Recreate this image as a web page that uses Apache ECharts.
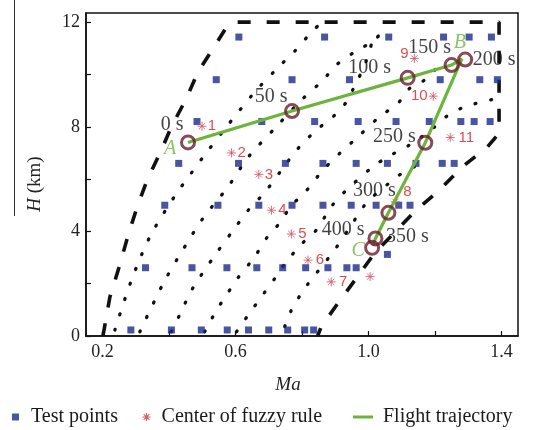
<!DOCTYPE html>
<html><head><meta charset="utf-8">
<script src="https://cdn.jsdelivr.net/npm/echarts@6/dist/echarts.min.js"></script>
<style>html,body{margin:0;padding:0;background:#fff}#c{width:549px;height:430px}</style>
</head><body><div id="c"></div>
<script>
// ---------- axis ticks ----------
const xTicks = [0.2, 0.4, 0.6, 0.8, 1.0, 1.2, 1.4];
const xLabels = [0.2, 0.6, 1.0, 1.4];
const yTicks = [0, 2, 4, 6, 8, 10, 12];
const yLabels = [0, 4, 8, 12];

// ---------- test points (rows of equal altitude) ----------
const testRowH = [11.43, 9.8, 8.2, 6.6, 5.0, 2.61, 0.23];
const testRowMa = [
  [0.61, 0.868, 1.061, 1.226, 1.303, 1.37],
  [0.542, 0.77, 0.943, 1.216, 1.335, 1.388],
  [0.484, 0.679, 0.838, 0.969, 1.083, 1.183, 1.278, 1.318, 1.366],
  [0.429, 0.609, 0.75, 0.863, 0.963, 1.057, 1.143, 1.222, 1.258],
  [0.387, 0.547, 0.67, 0.77, 0.863, 0.948, 1.023, 1.091, 1.125],
  [0.329, 0.469, 0.574, 0.664, 0.742, 0.811, 0.878, 0.935, 0.963],
  [0.285, 0.407, 0.497, 0.575, 0.639, 0.7, 0.757, 0.808, 0.835]
];
const extraTestMa = [1.057];
const extraTestH = [3.12];

// ---------- centers of fuzzy rules ----------
const ruleMa = [0.499, 0.588, 0.67, 0.708, 0.768, 0.818, 0.888, 1.081, 1.138, 1.195, 1.246, 1.005];
const ruleH = [8.02, 7.0, 6.18, 4.81, 3.9, 2.9, 2.07, 5.13, 10.61, 9.17, 7.59, 2.27];
const ruleText = ['1', '2', '3', '4', '5', '6', '7', '8', '9', '10', '11', ''];

// ---------- flight trajectory ----------
const trajMa = [0.457, 0.77, 1.118, 1.25, 1.281, 1.171, 1.06, 1.021, 1.013];
const trajH = [7.4, 8.6, 9.87, 10.36, 10.6, 7.39, 4.71, 3.73, 3.45];

// ---------- time markers ----------
const markMa = [0.457, 0.77, 1.118, 1.25, 1.291, 1.171, 1.06, 1.021, 1.011];
const markH = [7.4, 8.6, 9.87, 10.36, 10.57, 7.39, 4.71, 3.73, 3.37];
const markText = ['0 s', '50 s', '100 s', '150 s', '200 s', '250 s', '300 s', '350 s', '400 s'];

// ---------- letters ----------
const letterText = ['A', 'B', 'C'];
const letterMa = [0.457, 1.281, 1.011];
const letterH = [7.4, 10.6, 3.37];

// ---------- flight envelope ----------
const envMa = [0.201, 0.222, 0.25, 0.277, 0.304, 0.334, 0.377, 0.407, 0.452, 0.487, 0.542, 0.577, 0.6, 1.393, 1.393, 1.358, 1.283, 1.208, 1.143, 1.018, 0.963, 0.908, 0.858, 0.847];
const envH = [0, 1.5, 2.65, 3.86, 4.94, 5.96, 7.11, 8.0, 9.08, 10.1, 11.18, 11.9, 12, 12, 7.75, 7.23, 6.47, 5.51, 4.81, 3.16, 2.2, 1.25, 0.36, 0];

// ---------- dotted curves ----------
const dot1Ma = [0.237, 0.285, 0.342, 0.417, 0.467, 0.507, 0.573, 0.66, 0.73, 0.778, 0.823, 0.847];
const dot1H = [0.23, 2.07, 3.79, 5.35, 6.23, 6.92, 8.0, 9.36, 10.29, 10.89, 11.54, 11.85];
const dot2Ma = [0.312, 0.384, 0.445, 0.502, 0.577, 0.639, 0.718, 0.798, 0.863, 0.903, 0.967, 1.018, 1.054];
const dot2H = [0.16, 2.05, 3.37, 4.5, 5.7, 6.85, 7.94, 9.02, 9.78, 10.36, 10.93, 11.31, 11.88];
const dot3Ma = [0.407, 0.435, 0.469, 0.542, 0.597, 0.637, 0.69, 0.742, 0.788, 0.843, 0.893, 0.931, 0.96, 0.99, 1.009];
const dot3H = [0.16, 0.89, 1.78, 3.16, 4.11, 4.79, 5.52, 6.41, 7.17, 7.87, 8.38, 8.9, 9.6, 10.4, 11.16];
const dot4Ma = [0.507, 0.543, 0.573, 0.606, 0.656, 0.696, 0.736, 0.768, 0.802, 0.863, 0.913, 0.968, 1.033, 1.088, 1.123, 1.168, 1.228];
const dot4H = [0.16, 0.99, 1.57, 2.2, 3.0, 3.79, 4.37, 5.0, 5.39, 6.34, 6.98, 7.61, 8.38, 8.89, 9.46, 9.78, 10.55];
const dot5Ma = [0.603, 0.642, 0.682, 0.718, 0.753, 0.799, 0.843, 0.888, 0.933, 1.013, 1.058, 1.123, 1.193, 1.233, 1.278, 1.323, 1.378];
const dot5H = [0.16, 0.87, 1.57, 2.2, 2.84, 3.52, 4.05, 4.94, 5.57, 6.47, 6.85, 7.3, 7.93, 8.38, 8.7, 8.89, 9.06];
const dot6Ma = [0.748, 0.768, 0.798, 0.818, 0.898, 0.943, 0.993, 1.063, 1.143, 1.178];
const dot6H = [0.36, 0.99, 1.63, 1.99, 3.29, 4.13, 5.07, 5.85, 6.47, 6.41];

// ---------- styles (not data) ----------
const markLabelOffset = [[-16, -18], [-21, -14], [-38, -10], [-22, -17], [29, 0], [-31, -6], [-14, -22], [32, -2], [-29, -18]];
const ruleLabelOffset = [[10, 0], [10, 0], [10, 0], [11, 0], [11, 0], [12, 0], [12, 0], [12, -10], [-10, -5], [-14, 0], [16, 0], [0, 0]];
const letterOffset = [[-18, 6], [-2, -16], [-14, 3]];

const serif = "'Liberation Serif','Times New Roman',serif";
const sans = "'Liberation Sans',Arial,sans-serif";
const zip = (a, b) => a.map((v, i) => [v, b[i]]);
const asterisk = 'path://M5,0L5,10M0,5L10,5M1.5,1.5L8.5,8.5M1.5,8.5L8.5,1.5';

const testData = [];
testRowMa.forEach((row, i) => row.forEach(m => testData.push([m, testRowH[i]])));
extraTestMa.forEach((m, i) => testData.push([m, extraTestH[i]]));

const dotStyle = { type: [1, 15], width: 3.3, cap: 'round', color: '#111' };
const dotSeries = [[dot1Ma, dot1H], [dot2Ma, dot2H], [dot3Ma, dot3H], [dot4Ma, dot4H], [dot5Ma, dot5H], [dot6Ma, dot6H]]
  .map((c, i) => ({
    name: 'dots' + i, type: 'line', data: zip(c[0], c[1]), smooth: 0.3, symbol: 'none',
    lineStyle: dotStyle, silent: true, z: 1
  }));

const chart = echarts.init(document.getElementById('c'), null, { renderer: 'canvas' });
chart.setOption({
  animation: false,
  backgroundColor: '#fff',
  grid: { left: 86, right: 31, top: 13, bottom: 94, show: true, borderColor: '#111', borderWidth: 1.5 },
  xAxis: {
    type: 'value', min: 0.15, max: 1.45,
    splitLine: { show: false },
    axisLine: { onZero: false, lineStyle: { color: '#111', width: 1.5 } },
    axisTick: { inside: true, length: 5, customValues: xTicks, lineStyle: { color: '#111', width: 1.2 } },
    axisLabel: { customValues: xLabels, formatter: v => v.toFixed(1), fontFamily: serif, fontSize: 18, color: '#222', margin: 7 }
  },
  yAxis: {
    type: 'value', min: 0, max: 12.35,
    splitLine: { show: false },
    axisLine: { onZero: false, lineStyle: { color: '#111', width: 1.5 } },
    axisTick: { inside: true, length: 5, customValues: yTicks, lineStyle: { color: '#111', width: 1.2 } },
    axisLabel: { customValues: yLabels, formatter: v => String(v), fontFamily: serif, fontSize: 18, color: '#222', margin: 6 }
  },
  legend: [
    { left: 12, top: 407, padding: 0, itemWidth: 7, itemHeight: 7, selectedMode: false,
      data: [{ name: 'Test points', icon: 'rect' }],
      textStyle: { fontFamily: serif, fontSize: 20, color: '#1a1a1a', padding: [0, 0, 0, 7] } },
    { left: 142, top: 407, padding: 0, itemWidth: 8, itemHeight: 8, selectedMode: false,
      data: [{ name: 'Center of fuzzy rule', icon: asterisk, itemStyle: { color: 'rgba(0,0,0,0)', borderColor: '#d03545', borderWidth: 1.1 } }],
      textStyle: { fontFamily: serif, fontSize: 20, color: '#1a1a1a', padding: [0, 0, 0, 6] } },
    { left: 353, top: 407, padding: 0, itemWidth: 20, itemHeight: 3, selectedMode: false,
      data: [{ name: 'Flight trajectory', icon: 'rect' }],
      textStyle: { fontFamily: serif, fontSize: 20, color: '#1a1a1a', padding: [0, 0, 0, 5] } }
  ],
  graphic: [
    { type: 'line', shape: { x1: 14.5, y1: 0, x2: 14.5, y2: 216 }, style: { stroke: '#333', lineWidth: 1 }, silent: true },
    { type: 'text', x: 288, y: 385, style: { text: 'Ma', fontFamily: serif, fontSize: 19, fontStyle: 'italic', fill: '#222', align: 'center', verticalAlign: 'middle' } },
    { type: 'text', x: 35, y: 184, rotation: Math.PI / 2,
      style: { text: '{i|H} (km)', fontFamily: serif, fontSize: 19, fill: '#222', align: 'center', verticalAlign: 'middle',
        rich: { i: { fontFamily: serif, fontSize: 19, fontStyle: 'italic', fill: '#222' } } } }
  ],
  series: [
    ...dotSeries,
    { name: 'envelope', type: 'line', data: zip(envMa, envH), symbol: 'none', silent: true, z: 2,
      lineStyle: { type: [13, 16], width: 3.6, color: '#111' } },
    { name: 'Test points', type: 'scatter', data: testData, symbol: 'rect', symbolSize: 7, z: 3,
      itemStyle: { color: '#1a2a8c' } },
    { name: 'Center of fuzzy rule', type: 'scatter', symbol: asterisk, symbolSize: 9, z: 4,
      itemStyle: { color: 'rgba(0,0,0,0)', borderColor: '#d05060', borderWidth: 1 },
      data: ruleMa.map((m, i) => ({
        value: [m, ruleH[i]],
        label: { show: true, formatter: ruleText[i], position: 'inside', offset: ruleLabelOffset[i],
          fontFamily: sans, fontSize: 15, color: '#d42020' }
      })) },
    { name: 'Flight trajectory', type: 'line', data: zip(trajMa, trajH), symbol: 'none', z: 5,
      itemStyle: { color: '#6cb43c' }, lineStyle: { color: '#6cb43c', width: 3.2 } },
    { name: 'times', type: 'scatter', symbol: 'circle', symbolSize: 13, z: 6,
      itemStyle: { color: 'rgba(0,0,0,0)', borderColor: '#6b1d2e', borderWidth: 3 },
      data: markMa.map((m, i) => ({
        value: [m, markH[i]],
        label: { show: true, formatter: markText[i], position: 'inside', offset: markLabelOffset[i],
          fontFamily: serif, fontSize: 20, color: '#111' }
      })) },
    { name: 'letters', type: 'scatter', symbolSize: 0, z: 7,
      data: letterMa.map((m, i) => ({
        value: [m, letterH[i]],
        label: { show: true, formatter: letterText[i], position: 'inside', offset: letterOffset[i],
          fontFamily: serif, fontSize: 20, fontStyle: 'italic', color: '#6cb43c' }
      })) }
  ]
});
</script>
</body></html>
